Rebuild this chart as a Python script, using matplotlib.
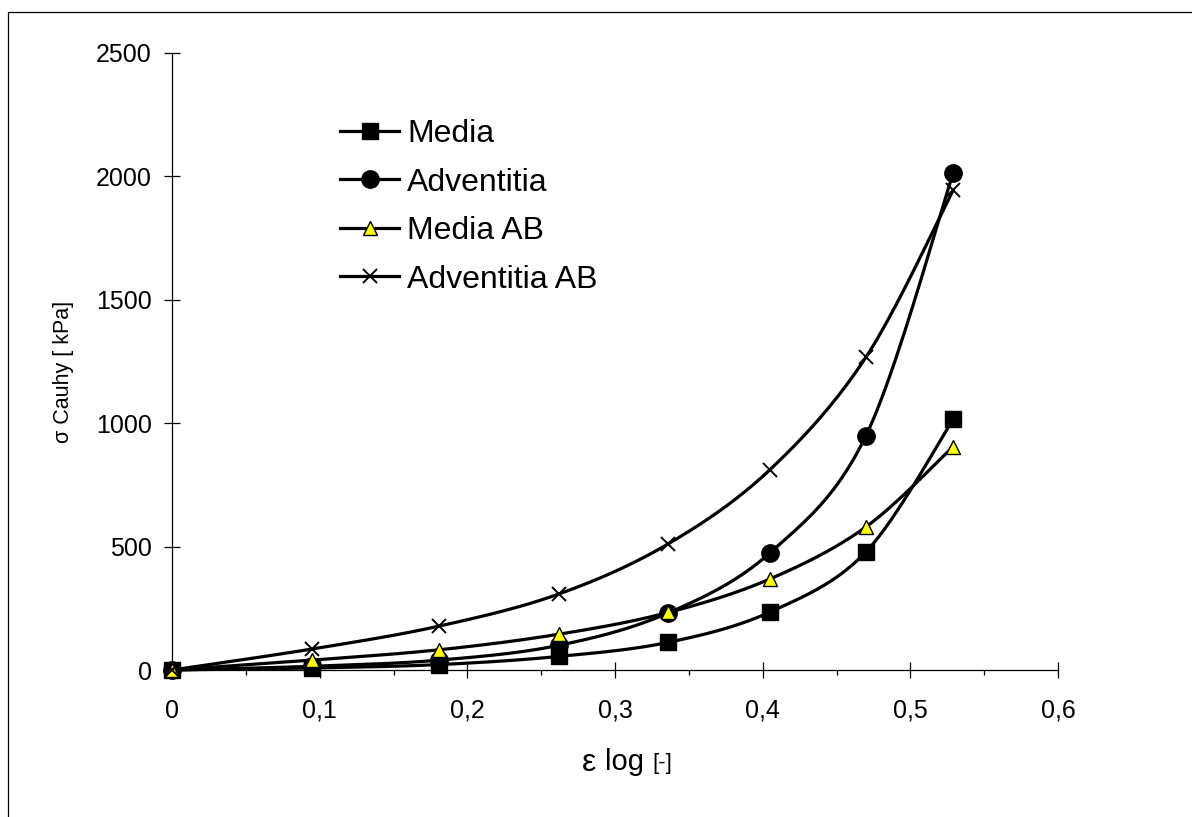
import matplotlib

matplotlib.use('Agg')
import matplotlib.pyplot as plt
import numpy as np
from matplotlib.patches import Rectangle
from matplotlib.ticker import MultipleLocator, FuncFormatter

plt.rcParams['font.family'] = ['Liberation Sans', 'DejaVu Sans']

# strain values (log strain)
strain = [0, 0.0948, 0.181, 0.262, 0.336, 0.405, 0.470, 0.529]
# Cauchy stress in kPa
media = [0, 8, 22, 55, 112, 235, 479, 1015]
adventitia = [0, 15, 40, 100, 231, 475, 950, 2013]
media_ab = [0, 40, 82, 145, 233, 369, 580, 905]
adventitia_ab = [0, 85, 178, 308, 511, 812, 1268, 1944]
labels = ['Media', 'Adventitia', 'Media AB', 'Adventitia AB']


def smooth(x, y, n=24):
    """Catmull-Rom style smoothing like the spreadsheet 'smoothed line'."""
    p = np.column_stack([x, y]).astype(float)
    p = np.vstack([p[0], p, p[-1]])
    out = []
    for i in range(1, len(p) - 2):
        p0, p1, p2, p3 = p[i - 1], p[i], p[i + 1], p[i + 2]
        c1 = p1 + (p2 - p0) / 6.0
        c2 = p2 - (p3 - p1) / 6.0
        t = np.linspace(0, 1, n)[:, None]
        seg = ((1 - t) ** 3) * p1 + 3 * ((1 - t) ** 2) * t * c1 \
            + 3 * (1 - t) * t ** 2 * c2 + t ** 3 * p2
        out.append(seg if i == 1 else seg[1:])
    out = np.vstack(out)
    return out[:, 0], out[:, 1]


fig = plt.figure(figsize=(11.92, 8.17), dpi=100)
fig.add_artist(Rectangle((8 / 1192, -0.2), 1.2, 1 - 12 / 817 + 0.2,
                         transform=fig.transFigure, fill=False,
                         edgecolor='black', linewidth=0.9))
ax = fig.add_axes([172 / 1192, 1 - 670 / 817, 886 / 1192, 617 / 817])

styles = [
    dict(marker='s', markersize=12, markerfacecolor='black', markeredgecolor='black'),
    dict(marker='o', markersize=12.5, markerfacecolor='black', markeredgecolor='black'),
    dict(marker='^', markersize=9.5, markerfacecolor='#ffff00', markeredgecolor='black',
         markeredgewidth=1.0),
    dict(marker='x', markersize=10, markeredgecolor='black', markeredgewidth=1.4),
]
series = [media, adventitia, media_ab, adventitia_ab]

for vals, lab, st in zip(series, labels, styles):
    xs, ys = smooth(strain, vals)
    ax.plot(xs, ys, color='black', linewidth=2.3, clip_on=False, zorder=2)
    ax.plot(strain, vals, linestyle='none', clip_on=False, zorder=3, **st)
    # legend proxy
    ax.plot([], [], color='black', linewidth=2.3, label=lab, **st)

ax.set_xlim(0, 0.6)
ax.set_ylim(0, 2500)
ax.xaxis.set_major_locator(MultipleLocator(0.1))
ax.xaxis.set_minor_locator(MultipleLocator(0.05))
ax.yaxis.set_major_locator(MultipleLocator(500))
ax.xaxis.set_major_formatter(FuncFormatter(lambda v, p: ('%g' % round(v, 2)).replace('.', ',')))
ax.yaxis.set_major_formatter(FuncFormatter(lambda v, p: '%d' % v))

for s in ['top', 'right']:
    ax.spines[s].set_visible(False)
for s in ['left', 'bottom']:
    ax.spines[s].set_linewidth(0.9)

ax.tick_params(axis='both', which='major', direction='inout', length=11.5,
               width=0.9, labelsize=18)
ax.tick_params(axis='x', which='major', pad=15)
ax.tick_params(axis='y', which='major', pad=9)
ax.tick_params(axis='x', which='minor', direction='out', length=3.6, width=0.9)

# axis titles
fig.text(589 / 1192, 1 - 763 / 817, '\u03b5', fontsize=23, ha='center', va='center')
fig.text(605 / 1192, 1 - 762 / 817, 'log', fontsize=21, ha='left', va='center')
fig.text(652 / 1192, 1 - 763 / 817, '[-]', fontsize=16, ha='left', va='center')
fig.text(64 / 1192, 1 - 372 / 817, '\u03c3 Cauhy [ kPa]', fontsize=15.5,
         rotation=90, ha='center', va='center')

leg = ax.legend(loc='upper left', bbox_to_anchor=(340 / 1192, 1 - 119 / 817),
                bbox_transform=fig.transFigure, frameon=False, fontsize=23,
                handlelength=1.85, handletextpad=0.25, labelspacing=0.58,
                borderpad=0, borderaxespad=0)

fig.savefig('out.png', dpi=100, facecolor='w')
plt.close(fig)
